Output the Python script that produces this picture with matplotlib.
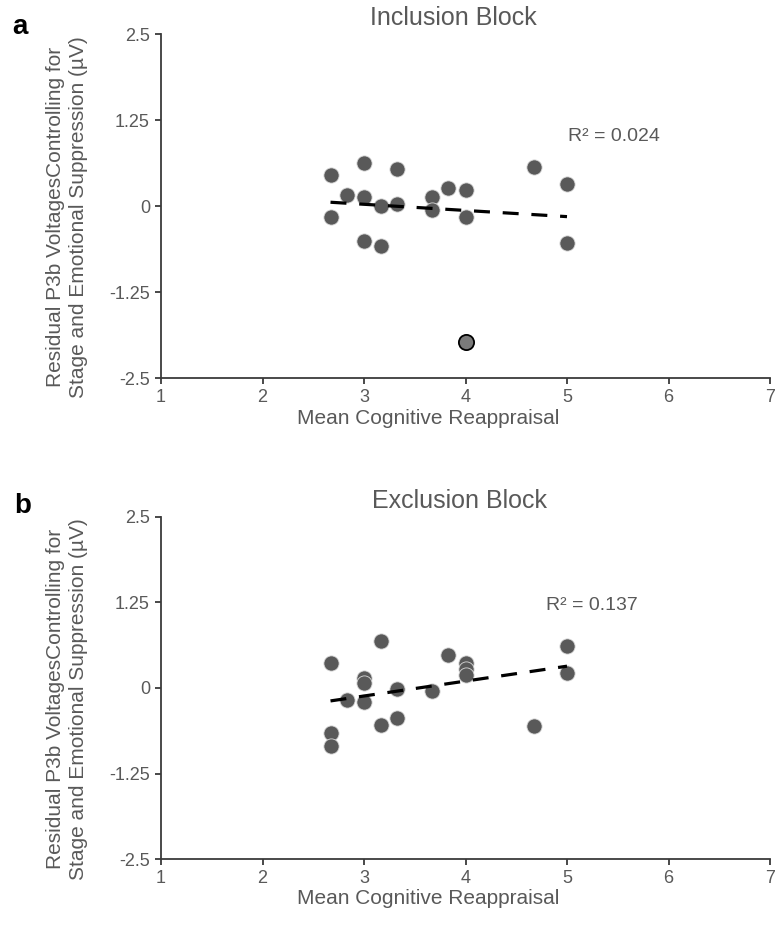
import numpy as np
import matplotlib
matplotlib.use('Agg')
import matplotlib.pyplot as plt

plt.rcParams['font.family'] = ['Liberation Sans', 'DejaVu Sans']

# Inclusion block (panel a)
incl_x = [2.67, 2.67, 2.83, 3.0, 3.0, 3.0, 3.17, 3.17, 3.33, 3.33,
          3.67, 3.67, 3.83, 4.0, 4.0, 4.67, 5.0, 5.0]
incl_y = [0.46, -0.15, 0.16, 0.63, 0.14, -0.51, 0.01, -0.57, 0.54, 0.04,
          0.14, -0.06, 0.27, 0.23, -0.16, 0.57, 0.33, -0.53]
# highlighted outlier
incl_out_x = [4.0]
incl_out_y = [-1.97]

# Exclusion block (panel b)
excl_x = [2.67, 2.67, 2.67, 2.83, 3.0, 3.0, 3.0, 3.17, 3.17, 3.33,
          3.33, 3.67, 3.83, 4.0, 4.0, 4.0, 4.67, 5.0, 5.0]
excl_y = [0.36, -0.65, -0.84, -0.17, 0.15, 0.08, -0.20, 0.68, -0.54, -0.01,
          -0.44, -0.05, 0.48, 0.36, 0.28, 0.19, -0.56, 0.62, 0.22]

r2_labels = ['R² = 0.024', 'R² = 0.137']
titles = ['Inclusion Block', 'Exclusion Block']
yticks = [-2.5, -1.25, 0, 1.25, 2.5]
yticklabels = ['-2.5', '-1.25', '0', '1.25', '2.5']
xticks = [1, 2, 3, 4, 5, 6, 7]
ylabel = 'Residual P3b VoltagesControlling for\nStage and Emotional Suppression (µV)'
xlabel = 'Mean Cognitive Reappraisal'

grey = '#595959'
W, H = 778, 931
fig = plt.figure(figsize=(W / 100, H / 100), dpi=100)

ax_a = fig.add_axes([161 / W, 1 - 378.3 / H, 609 / W, 344 / H])
ax_b = fig.add_axes([161 / W, 1 - 859.3 / H, 609 / W, 342.6 / H])

panels = [
    (ax_a, np.array(incl_x + incl_out_x), np.array(incl_y + incl_out_y), (5.01, 1.01)),
    (ax_b, np.array(excl_x), np.array(excl_y), (4.79, 1.21)),
]
# pixel positions of the text blocks around each panel
title_pos = [(453, 18), (460, 501)]
xlabel_pos = [(428, 418), (428, 899)]
ylabel_pos = [(67, 217), (67, 699)]

for i, (ax, x, y, r2pos) in enumerate(panels):
    if i == 0:
        ax.scatter(incl_x, incl_y, s=120, color=grey, edgecolors='#d9d9d9',
                   linewidths=0.6, zorder=3)
        ax.scatter(incl_out_x, incl_out_y, s=120, color='#7a7a7a',
                   edgecolors='black', linewidths=1.3, zorder=3)
    else:
        ax.scatter(x, y, s=120, color=grey, edgecolors='#d9d9d9',
                   linewidths=0.6, zorder=3)

    # linear trendline
    k, b0 = np.polyfit(x, y, 1)
    xx = np.array([x.min(), x.max()])
    ax.plot(xx, k * xx + b0, color='black', lw=2.3,
            linestyle=(0, (5, 4)), zorder=4)

    ax.text(r2pos[0], r2pos[1], r2_labels[i], fontsize=14, color=grey,
            va='center', ha='left')

    ax.set_xlim(1, 7)
    ax.set_ylim(-2.5, 2.5)
    ax.set_xticks(xticks)
    ax.set_yticks(yticks)
    ax.set_yticklabels(yticklabels)
    for s in ['top', 'right']:
        ax.spines[s].set_visible(False)
    for s in ['left', 'bottom']:
        ax.spines[s].set_color('#3a3a3a')
        ax.spines[s].set_linewidth(1.3)
    ax.tick_params(direction='out', length=4, width=1.3, color='#3a3a3a',
                   labelsize=13, labelcolor=grey, pad=4)

    tx, ty = title_pos[i]
    fig.text(tx / W, 1 - ty / H, titles[i], fontsize=18, color=grey,
             ha='center', va='center')
    lx, ly = xlabel_pos[i]
    fig.text(lx / W, 1 - ly / H, xlabel, fontsize=15, color=grey,
             ha='center', va='center')
    yx, yy = ylabel_pos[i]
    fig.text(yx / W, 1 - yy / H, ylabel, fontsize=15, color=grey,
             rotation=90, ha='center', va='center', linespacing=1.3)

fig.text(12 / W, 1 - 27 / H, 'a', fontsize=20, fontweight='bold',
         va='center', ha='left')
fig.text(14 / W, 1 - 506 / H, 'b', fontsize=20, fontweight='bold',
         va='center', ha='left')

plt.savefig('out.png', dpi=100)
